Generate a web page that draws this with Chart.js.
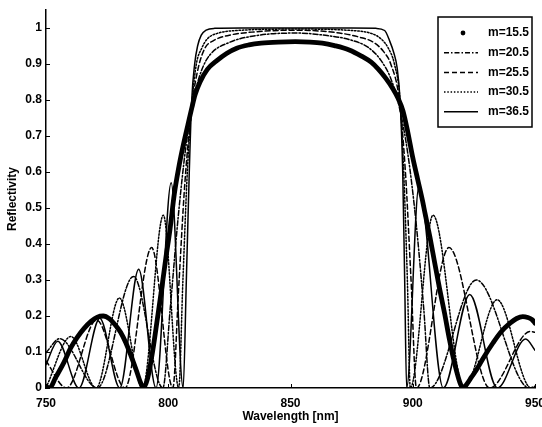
<!DOCTYPE html>
<html>
<head>
<meta charset="utf-8">
<script src="https://cdn.jsdelivr.net/npm/chart.js@4.4.1/dist/chart.umd.min.js"></script>
<style>
  html, body { margin: 0; padding: 0; background: #fff; }
</style>
</head>
<body>
<canvas id="chart" width="542" height="427"></canvas>
<script>
// [wavelength nm, reflectivity], one list per mirror
const m155 = [[750,0.004],[751.5,0],[754,0.03],[757.4,0.072],[760,0.11],[762.7,0.14],[765.5,0.165],[768.4,0.185],[771,0.197],[773.4,0.2],
  [776,0.192],[778,0.178],[780.5,0.155],[782.7,0.125],[785,0.085],[787,0.048],[788.5,0.018],[789.8,0],[791.5,0.025],[793.8,0.11],
  [795.5,0.19],[797.4,0.28],[799,0.36],[800.7,0.44],[802.5,0.54],[804.5,0.62],[806,0.67],[808,0.73],[809.7,0.78],[811,0.815],
  [813,0.85],[816,0.885],[820,0.91],[824,0.93],[828,0.944],[833,0.953],[838,0.958],[845,0.961],[852,0.962],[858,0.961],
  [863,0.958],[868,0.951],[874,0.939],[879,0.922],[883,0.905],[886,0.885],[889,0.86],[892,0.83],[894,0.805],[896,0.77],
  [898,0.71],[900,0.64],[902,0.58],[904,0.52],[905,0.486],[907,0.42],[909,0.347],[911,0.275],[913,0.208],[915,0.135],
  [916.5,0.086],[918,0.045],[919.3,0.015],[920.5,0],[922,0.01],[924,0.03],[926,0.05],[929,0.085],[932.8,0.125],[936,0.155],
  [939.8,0.18],[942.5,0.193],[945,0.198],[947,0.196],[948.8,0.19],[950,0.18]];

const m205 = [[750,0.098],[755.6,0.137],[771,0],[785.8,0.31],[797.8,0],[800.8,0.22],[804,0.47],[807.2,0.67],[810.3,0.8],[813.5,0.88],
  [817,0.925],[825,0.96],[835,0.978],[852,0.986],[865,0.979],[875,0.966],[882,0.945],[887,0.91],[891,0.86],[894.5,0.78],
  [898,0.65],[901.5,0.45],[904.5,0.22],[907,0],[926,0.3],[947.7,0],[950,0.004]];

const m255 = [[750,0.075],[758.4,0],[770.7,0.189],[782.3,0],[793.2,0.39],[801.9,0],[804.2,0.27],[806.8,0.57],[810,0.8],[812.3,0.89],
  [815,0.944],[818.5,0.965],[825,0.98],[835,0.989],[852,0.994],[870,0.986],[878,0.975],[884,0.96],[888,0.935],[891,0.9],
  [894.5,0.8],[897,0.6],[899.3,0.3],[901.5,0],[914.8,0.39],[931.5,0],[948.1,0.157],[950,0.155]];

const m305 = [[750,0.001],[760.2,0.143],[770.5,0],[780,0.25],[789.5,0],[798,0.48],[804.3,0],[806,0.3],[807.8,0.6],[809.8,0.8],
  [811.5,0.9],[813.7,0.944],[816,0.97],[820,0.985],[828,0.993],[852,0.997],[875,0.993],[883,0.985],[887,0.97],[890,0.944],
  [892.5,0.9],[894.8,0.8],[896.3,0.6],[897.8,0.3],[899,0],[908.3,0.48],[921,0],[934.5,0.245],[948.4,0],[950,0.005]];

const m365 = [[750,0.065],[754.8,0.13],[763.5,0],[772,0.194],[780.2,0],[787.9,0.33],[795,0],[801.2,0.57],[806.1,0],[807.4,0.3],
  [808.6,0.6],[809.6,0.8],[810.8,0.9],[812,0.95],[813.5,0.98],[815.5,0.994],[819,0.999],[830,1],[875,1],[885,0.999],
  [888.5,0.993],[890.5,0.965],[892.3,0.93],[893.6,0.89],[894.8,0.8],[895.9,0.6],[896.7,0.3],[897.5,0],[902.5,0.56],[912.5,0],
  [923.3,0.26],[934.6,0],[946.2,0.136],[950,0.105]];

const seriesLabels = ['m=15.5', 'm=20.5', 'm=25.5', 'm=30.5', 'm=36.5'];
const xTicks = [750, 800, 850, 900, 950];
const yTicks = [0, 0.1, 0.2, 0.3, 0.4, 0.5, 0.6, 0.7, 0.8, 0.9, 1];

const FONT = { family: '"Liberation Sans", Arial, sans-serif', size: 12, weight: 'bold' };
const toXY = pts => pts.map(([x, y]) => ({ x, y }));

const lineStyles = [
  { borderWidth: 4.8, borderDash: [], legendMarker: 'dot' },
  { borderWidth: 1.5, borderDash: [5, 2, 1.5, 2] },
  { borderWidth: 1.5, borderDash: [5, 3] },
  { borderWidth: 1.5, borderDash: [1.5, 1.8] },
  { borderWidth: 1.5, borderDash: [] },
];

const datasets = [m155, m205, m255, m305, m365].map((pts, i) => ({
  label: seriesLabels[i],
  data: toXY(pts),
  borderColor: '#000',
  backgroundColor: '#000',
  pointRadius: 0,
  fill: false,
  cubicInterpolationMode: 'monotone',
  borderCapStyle: 'round',
  borderJoinStyle: 'round',
  ...lineStyles[i],
}));

// matlab style ticks pointing into the plot
const inwardTicks = {
  id: 'inwardTicks',
  afterDraw(chart) {
    const { ctx, scales: { x, y }, chartArea: a } = chart;
    ctx.save();
    ctx.strokeStyle = '#000';
    ctx.lineWidth = 1;
    ctx.beginPath();
    yTicks.forEach(v => {
      const py = Math.round(y.getPixelForValue(v)) + 0.5;
      ctx.moveTo(a.left, py);
      ctx.lineTo(a.left + 4, py);
    });
    xTicks.forEach(v => {
      const px = Math.round(x.getPixelForValue(v)) + 0.5;
      ctx.moveTo(px, a.bottom);
      ctx.lineTo(px, a.bottom - 4);
    });
    ctx.stroke();
    ctx.restore();
  }
};

// boxed legend in the top right corner
const boxLegend = {
  id: 'boxLegend',
  afterDraw(chart) {
    const { ctx, chartArea: a } = chart;
    const w = 94, h = 110;
    const bx = a.right - 3 - w, by = a.top + 7;
    ctx.save();
    ctx.fillStyle = '#fff';
    ctx.fillRect(bx, by, w, h);
    ctx.strokeStyle = '#000';
    ctx.lineWidth = 1.5;
    ctx.strokeRect(bx, by, w, h);
    ctx.font = 'bold 12px "Liberation Sans", Arial, sans-serif';
    ctx.textBaseline = 'middle';
    ctx.textAlign = 'left';
    chart.data.datasets.forEach((ds, i) => {
      const cy = by + 16 + i * 19.7;
      ctx.fillStyle = '#000';
      if (ds.legendMarker === 'dot') {
        ctx.beginPath();
        ctx.arc(bx + 25, cy, 2.4, 0, Math.PI * 2);
        ctx.fill();
      } else {
        ctx.beginPath();
        ctx.setLineDash(ds.borderDash);
        ctx.lineWidth = 1.5;
        ctx.moveTo(bx + 6, cy);
        ctx.lineTo(bx + 40, cy);
        ctx.stroke();
        ctx.setLineDash([]);
      }
      ctx.fillText(ds.label, bx + 50, cy);
    });
    ctx.restore();
  }
};

new Chart(document.getElementById('chart'), {
  type: 'line',
  data: { datasets },
  plugins: [inwardTicks, boxLegend],
  options: {
    responsive: false,
    animation: false,
    events: [],
    layout: { padding: { top: 10, right: 7, left: 0, bottom: 0 } },
    plugins: { legend: { display: false }, tooltip: { enabled: false } },
    scales: {
      x: {
        type: 'linear',
        min: 750,
        max: 950,
        afterBuildTicks: s => { s.ticks = xTicks.map(value => ({ value })); },
        afterFit: s => { s.height = 39; s.paddingLeft = 0; s.paddingRight = 0; },
        grid: { display: false, drawTicks: false },
        border: { display: true, color: '#000', width: 1.5 },
        ticks: { color: '#000', font: FONT, padding: 8, maxRotation: 0, autoSkip: false },
        title: { display: true, text: 'Wavelength [nm]', color: '#000', font: FONT, padding: { top: 0, bottom: 3 } }
      },
      y: {
        type: 'linear',
        min: 0,
        max: 1.05,
        afterBuildTicks: s => { s.ticks = yTicks.map(value => ({ value })); },
        afterFit: s => { s.width = 46; s.paddingTop = 0; s.paddingBottom = 0; },
        grid: { display: false, drawTicks: false },
        border: { display: true, color: '#000', width: 1.5 },
        ticks: { color: '#000', font: FONT, padding: 4, callback: v => String(v) },
        title: { display: true, text: 'Reflectivity', color: '#000', font: FONT, padding: { top: 5, bottom: 0 } }
      }
    }
  }
});
</script>
</body>
</html>
